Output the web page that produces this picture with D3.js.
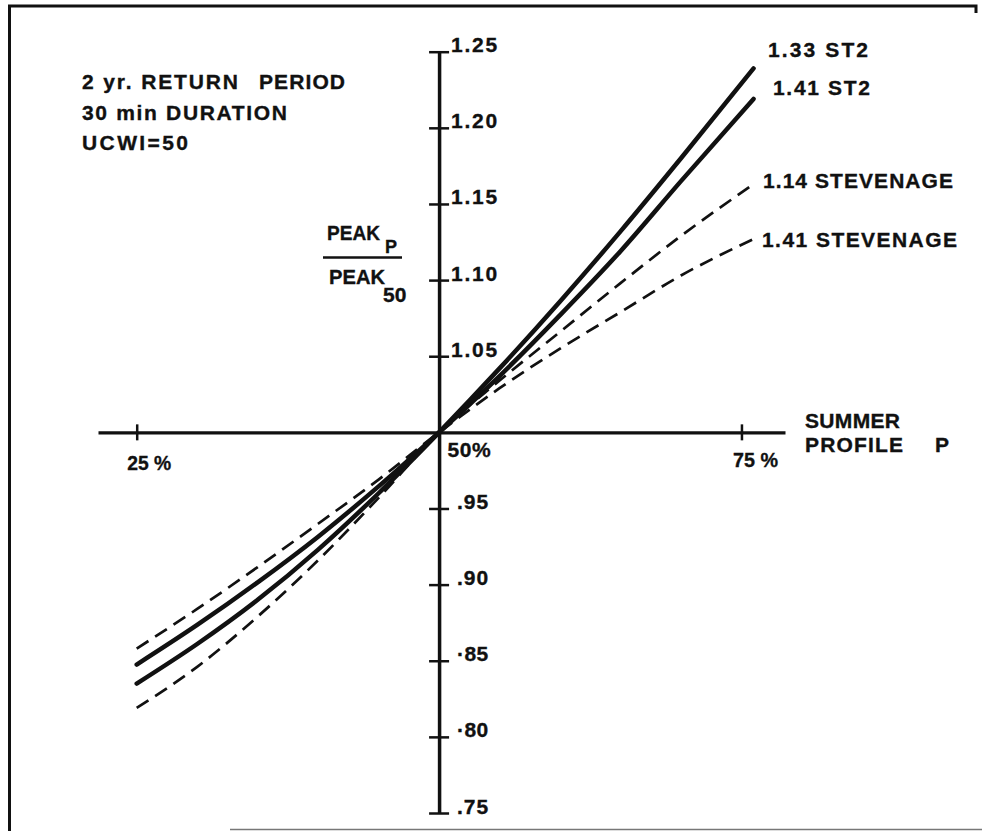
<!DOCTYPE html>
<html>
<head>
<meta charset="utf-8">
<script src="https://cdn.jsdelivr.net/npm/d3@7"></script>
<style>
  html, body { margin: 0; padding: 0; background: #fff; }
  svg { display: block; }
  text { font-family: "Liberation Sans", Arial, Helvetica, sans-serif; font-weight: bold; fill: #111; stroke: #111; stroke-width: 0.35px; }
</style>
</head>
<body>
<svg id="chart" width="982" height="831"></svg>
<script>
// Summer profile percentile P (x) against PEAK_P / PEAK_50 (y)
const profile   = [25, 30, 35, 40, 45, 50, 55, 60, 65, 70, 76];
const st2_133   = [0.835, 0.861, 0.890, 0.923, 0.960, 1.000, 1.042, 1.086, 1.132, 1.180, 1.239];
const st2_141   = [0.8475, 0.8735, 0.9015, 0.9315, 0.9645, 1.000, 1.037, 1.077, 1.119, 1.165, 1.219];
const stev_114  = [0.819, 0.846, 0.879, 0.916, 0.957, 1.000, 1.034, 1.066, 1.098, 1.129, 1.163];
const stev_141  = [0.858, 0.884, 0.9115, 0.940, 0.969, 1.000, 1.029, 1.055, 1.079, 1.103, 1.127];

const seriesNames = ["1.33 ST2", "1.41 ST2", "1.14 STEVENAGE", "1.41 STEVENAGE"];
const seriesDashed = [false, false, true, true];

const yTicks      = [0.75, 0.80, 0.85, 0.90, 0.95, 1.05, 1.10, 1.15, 1.20, 1.25];
const yTickLabels = [".75", "\u00b780", "\u00b785", ".90", ".95", "1.05", "1.10", "1.15", "1.20", "1.25"];
const xTicks      = [25, 50, 75];
const xTickLabels = ["25 %", "50%", "75 %"];
const xAxisExtent = [21.8, 78.6];

const notes = ["2 yr. RETURN", "PERIOD", "30 min DURATION", "UCWI=50"];

const svg = d3.select("#chart");
const ink = "#111";
const FONT = 21;

// stretch or squeeze a text element to a given width
function fitWidth(sel, len) {
  sel.each(function () {
    const w = this.getComputedTextLength();
    d3.select(this)
      .attr("textLength", len)
      .attr("lengthAdjust", w > len ? "spacingAndGlyphs" : "spacing");
  });
}

// frame of the sheet
svg.append("path")
  .attr("d", "M9.5,831 V6 H976 V13")
  .attr("fill", "none").attr("stroke", ink).attr("stroke-width", 3);
svg.append("line")
  .attr("x1", 230).attr("x2", 982).attr("y1", 829.5).attr("y2", 829.5)
  .attr("stroke", "#777").attr("stroke-width", 1.5);

// scales: axes cross at (50 %, 1.00)
const x = d3.scaleLinear().domain(xAxisExtent).range([98, 785]);
const y = d3.scaleLinear().domain([0.75, 1.25]).range([813, 51.7]);
const x0 = x(50), y0 = y(1.0);

// horizontal axis (summer profile)
const xAxis = d3.axisBottom(x)
  .tickValues(xTicks)
  .tickFormat((d, i) => xTickLabels[i])
  .tickSize(8).tickSizeOuter(0);
const gx = svg.append("g").attr("transform", `translate(0,${y0})`).call(xAxis);
gx.select(".domain").attr("stroke", ink).attr("stroke-width", 3.2);
gx.selectAll(".tick line")
  .attr("y1", -8).attr("y2", 8)
  .attr("stroke", ink).attr("stroke-width", 2.5)
  .attr("display", d => d === 50 ? "none" : null);
const xLabelOffset = { 25: [-10, 37.5, 44], 50: [8, 24.5, 43], 75: [-9, 34.5, 45] };
gx.selectAll(".tick text")
  .attr("text-anchor", "start")
  .attr("font-size", FONT).attr("font-family", null)
  .attr("fill", ink)
  .attr("dy", null)
  .attr("x", d => xLabelOffset[d][0])
  .attr("y", d => xLabelOffset[d][1])
  .each(function (d) { fitWidth(d3.select(this), xLabelOffset[d][2]); });

// vertical axis (peak ratio)
const yAxis = d3.axisRight(y)
  .tickValues(yTicks)
  .tickFormat((d, i) => yTickLabels[i])
  .tickSize(10).tickSizeOuter(0);
const gy = svg.append("g").attr("transform", `translate(${x0},0)`).call(yAxis);
gy.select(".domain").attr("stroke", ink).attr("stroke-width", 3.5);
gy.selectAll(".tick line")
  .attr("x1", -10).attr("x2", 10)
  .attr("stroke", ink).attr("stroke-width", 2.5);
gy.selectAll(".tick text")
  .attr("text-anchor", "start")
  .attr("font-size", FONT).attr("font-family", null)
  .attr("fill", ink)
  .attr("dy", null)
  .attr("y", 0)
  .attr("x", d => d >= 1 ? 12 : 18)
  .each(function (d) { fitWidth(d3.select(this), d >= 1 ? 46 : 31); });

// curves
const allSeries = [st2_133, st2_141, stev_114, stev_141];
const line = d3.line()
  .x((d, i) => x(profile[i]))
  .y(d => y(d))
  .curve(d3.curveMonotoneX);

svg.append("g").selectAll("path")
  .data(allSeries)
  .join("path")
  .attr("d", line)
  .attr("fill", "none")
  .attr("stroke", ink)
  .attr("stroke-linecap", (d, i) => seriesDashed[i] ? "butt" : "round")
  .attr("stroke-width", (d, i) => seriesDashed[i] ? 2.7 : 4.5)
  .attr("stroke-dasharray", (d, i) => seriesDashed[i] ? "14,8" : null);

// series labels at the right-hand ends
const seriesLabelPos = [[768, 57, 100], [773, 95, 97], [763, 188, 190], [762, 247, 195]];
svg.append("g").selectAll("text")
  .data(seriesNames)
  .join("text")
  .attr("x", (d, i) => seriesLabelPos[i][0])
  .attr("y", (d, i) => seriesLabelPos[i][1])
  .attr("font-size", FONT)
  .text(d => d)
  .each(function (d, i) { fitWidth(d3.select(this), seriesLabelPos[i][2]); });

function label(txt, px, py, len, size = FONT) {
  const t = svg.append("text").attr("x", px).attr("y", py).attr("font-size", size).text(txt);
  if (len) fitWidth(t, len);
  return t;
}

// axis caption on the right
label("SUMMER", 805, 428, 95);
label("PROFILE", 805, 452, 98);
label("P", 935, 452);

// condition notes, top left
const notePos = [[82, 89, 156], [259, 89, 86], [82, 120, 205], [82, 150, 106]];
notes.forEach((n, i) => label(n, notePos[i][0], notePos[i][1], notePos[i][2]));

// y-axis title as a fraction
label("PEAK", 327, 240, 53);
label("P", 385, 253, null, 18);
svg.append("line")
  .attr("x1", 323).attr("x2", 402).attr("y1", 257.5).attr("y2", 257.5)
  .attr("stroke", ink).attr("stroke-width", 2.5);
label("PEAK", 329, 284, 56);
label("50", 383, 302, null, 21);
</script>
</body>
</html>
